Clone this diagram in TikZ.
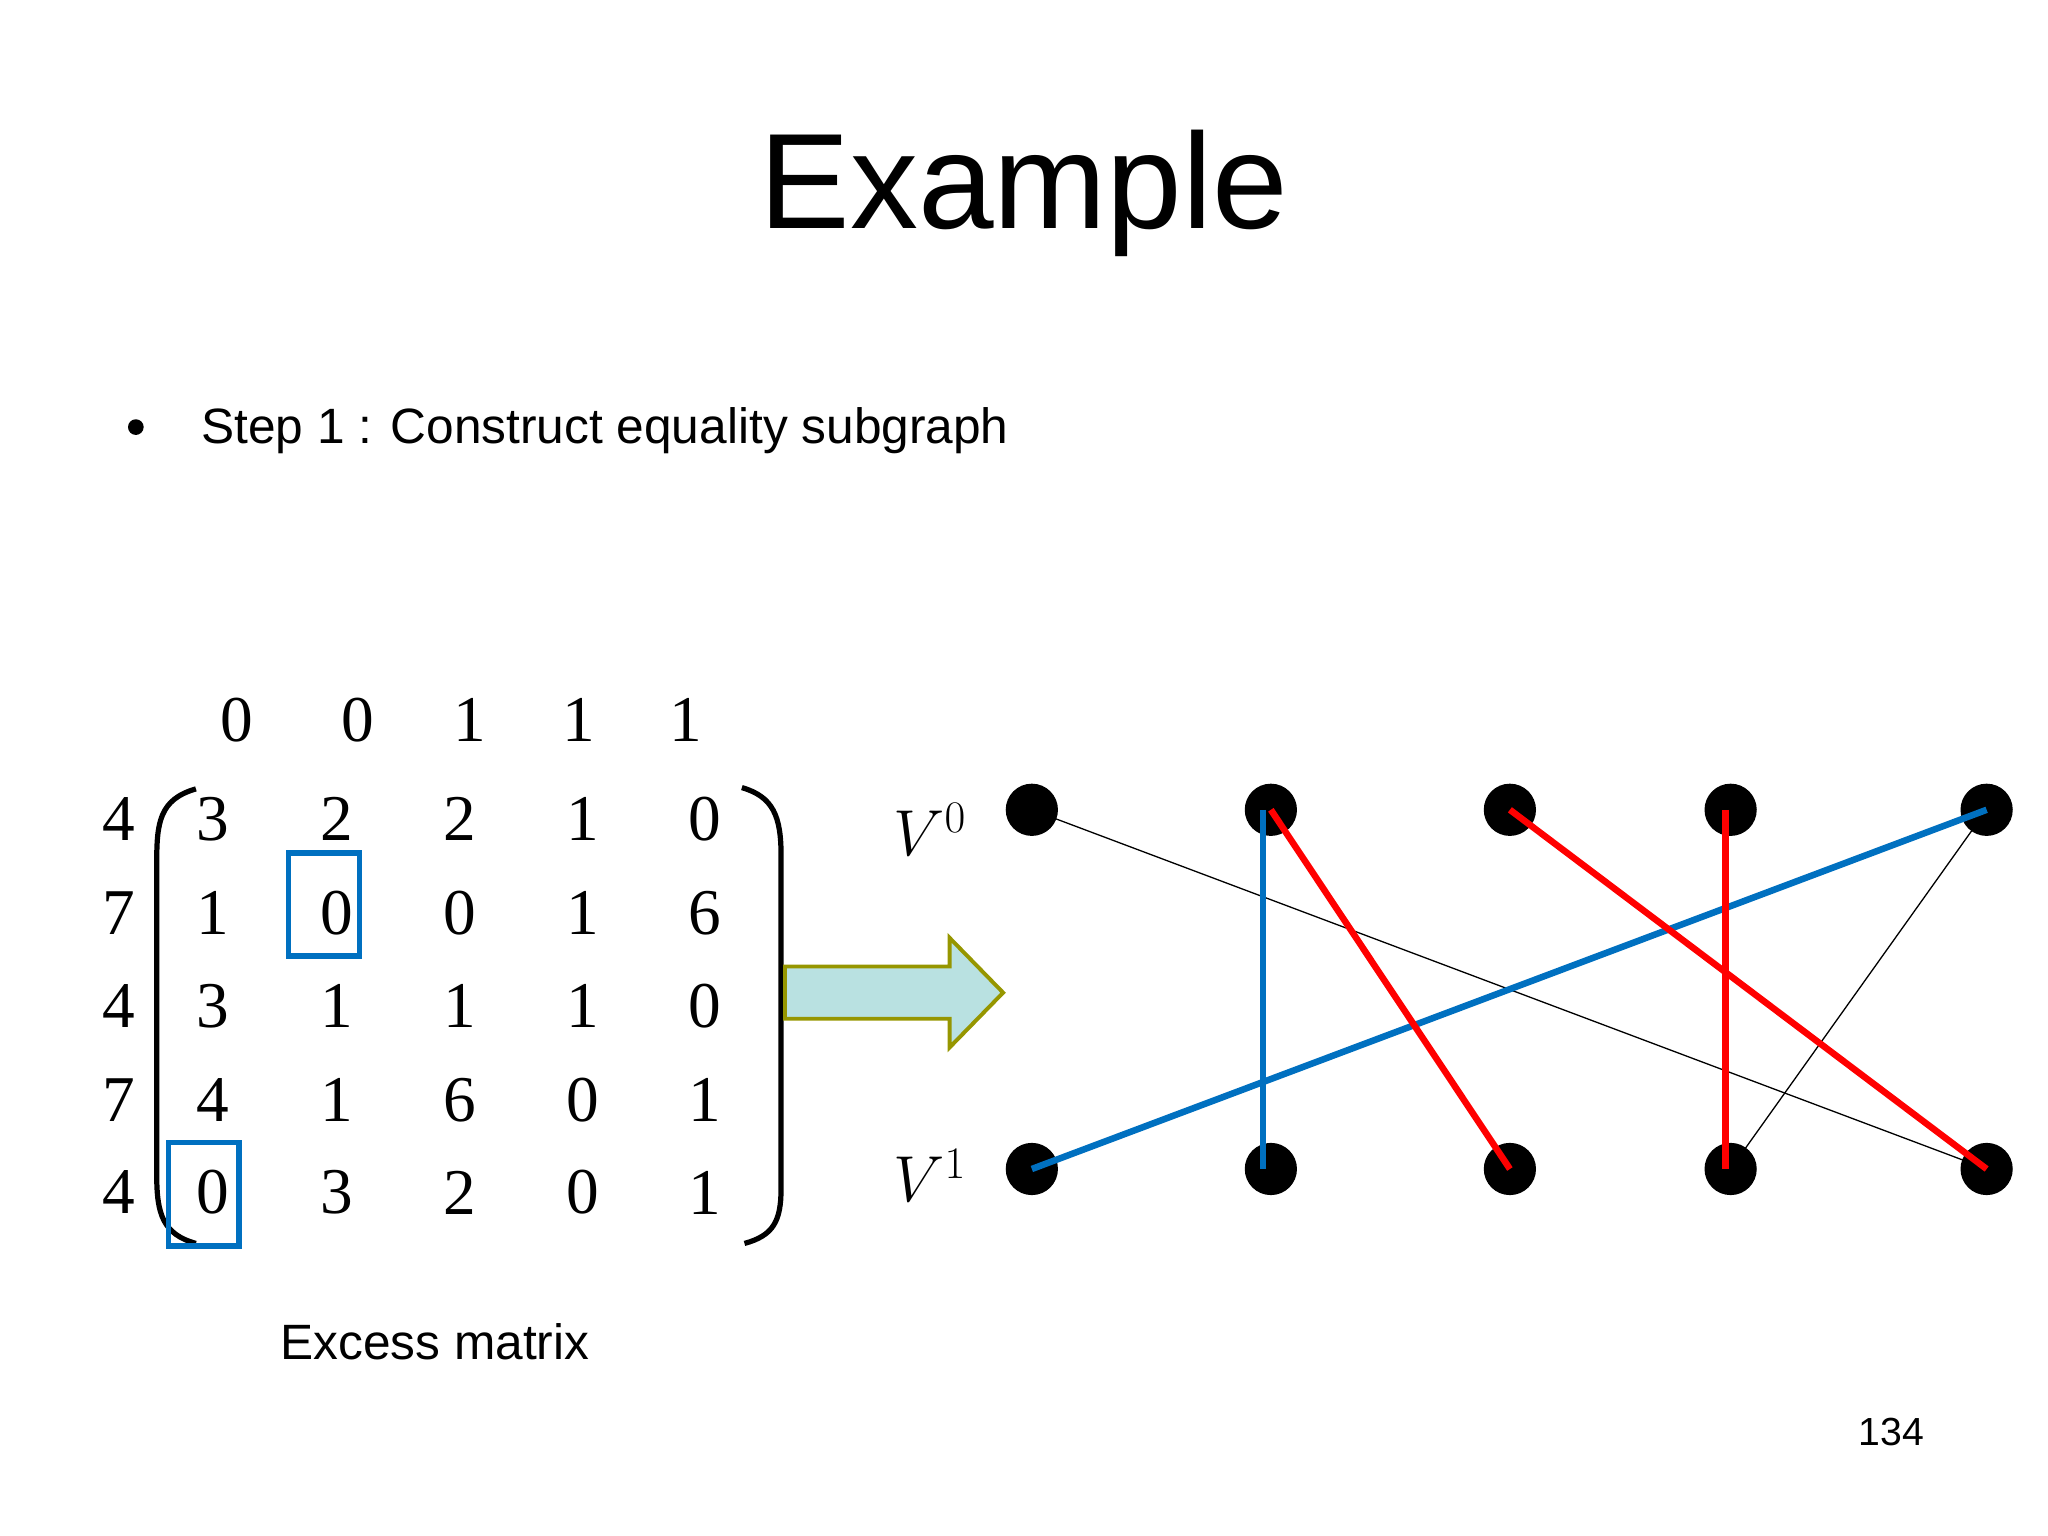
\documentclass[tikz,border=0pt]{standalone}
\usepackage{fontspec}
\setmainfont{Liberation Serif}
\setsansfont{Liberation Sans}
\begin{document}
\begin{tikzpicture}[x=0.5pt,y=-0.5pt,
  num/.style={font=\fontsize{25}{25}\selectfont},
  sans/.style={font=\sffamily\fontsize{#1}{#1}\selectfont},
  vert/.style={circle,fill=black,inner sep=0pt,minimum size=20pt},
  blueE/.style={draw={rgb,255:red,0;green,112;blue,192},line width=2.5pt},
  redE/.style={draw=red,line width=2.5pt},
  thinE/.style={draw=black,line width=0.5pt}]
\useasboundingbox (0,0) rectangle (1568,1176);
\node[sans=52] (title) at (784,148) {Example};
\node[circle,fill=black,inner sep=0pt,minimum size=6pt] (bul) at (104,327) {};
\node[sans=19,anchor=west] (step) at (147,330) {Step 1 : Construct equality subgraph};
\foreach \v [count=\i] in {0,0,1,1,1}{
  \pgfmathsetmacro\xx{{181,274,360,443,525}[\i-1]}
  \node[num] (c\i) at (\xx,551) {\v};}
\foreach \v [count=\i] in {4,7,4,7,4}{
  \pgfmathsetmacro\yy{{627,699,770,842,913}[\i-1]}
  \node[num] (r\i) at (91,\yy) {\v};}
\foreach \row [count=\i] in {{3,2,2,1,0},{1,0,0,1,6},{3,1,1,1,0},{4,1,6,0,1},{0,3,2,0,1}}{
  \pgfmathsetmacro\yy{{627,699,770,842,913}[\i-1]}
  \foreach \v [count=\j] in \row {
    \pgfmathsetmacro\xx{{163,258,352,446,540}[\j-1]}
    \node[num] (m\i\j) at (\xx,\yy) {\v};}}
\draw[line width=2pt] (150,604) .. controls (122,612) and (120,630) .. (120,660) -- (120,900) .. controls (120,930) and (125,945) .. (150,952);
\draw[line width=2pt] (568,603) .. controls (592,610) and (598,625) .. (598,655) -- (598,910) .. controls (598,935) and (592,946) .. (570,952);
\draw[blueE,line width=2pt] (221,653) rectangle (275,732);
\draw[blueE,line width=2pt] (129,875) rectangle (183,954);
\draw[draw={rgb,255:red,150;green,150;blue,0},fill={rgb,255:red,185;green,225;blue,225},line width=1.5pt]
  (601,740) -- (727,740) -- (727,718) -- (768,760) -- (727,802) -- (727,780) -- (601,780) -- cycle;
\node[font=\itshape\fontsize{25}{25}\selectfont] (v0) at (712,635) {$V^{0}$};
\node[font=\itshape\fontsize{25}{25}\selectfont] (v1) at (712,900) {$V^{1}$};
\foreach \xx [count=\i] in {790,973,1156,1325,1521}{
  \node[vert] (t\i) at (\xx,620) {};
  \node[vert] (b\i) at (\xx,895) {};}
\draw[thinE] (t1.center) -- (b5.center);
\draw[thinE] (t5.center) -- (b4.center);
\draw[blueE] ([xshift=-3pt]t2.center) -- ([xshift=-3pt]b2.center);
\draw[blueE] (t5.center) -- (b1.center);
\draw[redE] (t2.center) -- (b3.center);
\draw[redE] (t3.center) -- (b5.center);
\draw[redE] ([xshift=-2pt]t4.center) -- ([xshift=-2pt]b4.center);
\node[sans=19] (cap) at (333,1027) {Excess matrix};
\node[sans=15] (pg) at (1448,1096) {134};
\end{tikzpicture}
\end{document}
